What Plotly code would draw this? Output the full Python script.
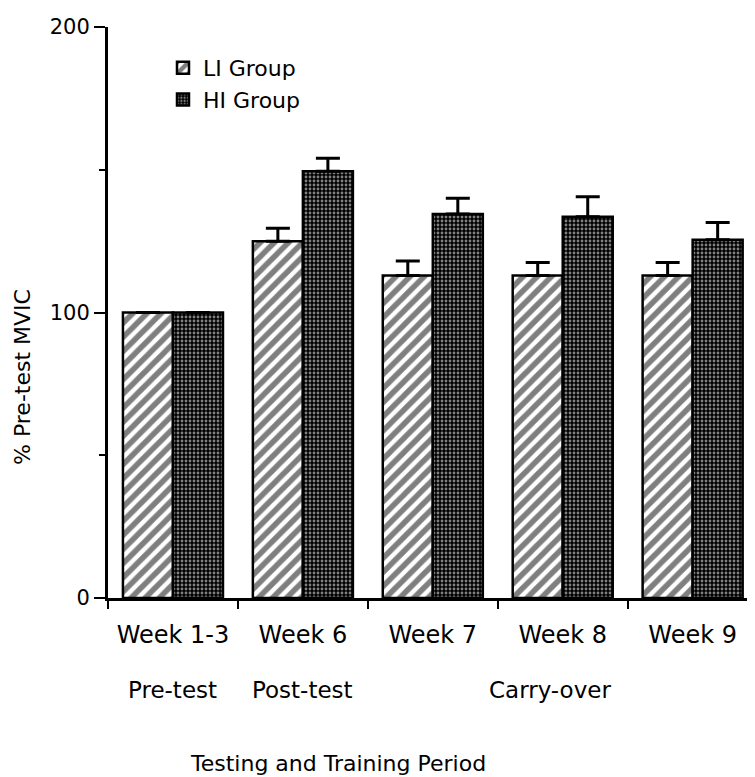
import plotly.graph_objects as go

categories = ["Week 1-3", "Week 6", "Week 7", "Week 8", "Week 9"]
li_values = [100, 125, 113, 113, 113]
li_errors = [0, 4.5, 5, 4.5, 4.5]
hi_values = [100, 149.5, 134.5, 133.5, 125.5]
hi_errors = [0, 4.5, 5.5, 7, 6]
period_labels = ["Pre-test", "Post-test", "Carry-over"]
period_positions = [0, 1, 2.9]
y_ticks = [0, 100, 200]
y_minor_ticks = [50, 150]

FONT = "DejaVu Sans"

fig = go.Figure()
fig.add_trace(go.Bar(
    x=categories, y=li_values, name="LI Group",
    marker=dict(color="white", line=dict(color="black", width=2.5),
                pattern=dict(shape="/", fgcolor="black", bgcolor="white", size=10, solidity=0.55)),
    error_y=dict(type="data", array=li_errors, arrayminus=[0]*len(li_errors), symmetric=False,
                 color="black", thickness=3, width=12),
))
fig.add_trace(go.Bar(
    x=categories, y=hi_values, name="HI Group",
    marker=dict(color="black", line=dict(color="black", width=2.5),
                pattern=dict(shape=".", fgcolor="white", bgcolor="black", size=4, solidity=0.4)),
    error_y=dict(type="data", array=hi_errors, arrayminus=[0]*len(hi_errors), symmetric=False,
                 color="black", thickness=3, width=12),
))

for lab, pos in zip(period_labels, period_positions):
    fig.add_annotation(x=pos, y=-0.161, xref="x", yref="paper", text=lab, showarrow=False,
                       xanchor="center", yanchor="middle", font=dict(family=FONT, size=23, color="black"))

fig.add_annotation(x=0.356, y=-0.289, xref="paper", yref="paper", text="Testing and Training Period",
                   showarrow=False, xanchor="center", yanchor="middle",
                   font=dict(family=FONT, size=22, color="black"))
fig.add_annotation(x=-0.133, y=0.387, xref="paper", yref="paper", text="% Pre-test MVIC",
                   showarrow=False, textangle=-90, xanchor="center", yanchor="middle",
                   font=dict(family=FONT, size=22, color="black"))

fig.update_layout(
    width=747, height=769,
    margin=dict(l=100, r=0, t=19, b=179),
    paper_bgcolor="white", plot_bgcolor="white",
    barmode="group", bargap=0.23, bargroupgap=0,
    font=dict(family=FONT, size=22, color="black"),
    showlegend=True,
    legend=dict(x=0.085, y=0.965, xanchor="left", yanchor="top", bgcolor="rgba(0,0,0,0)",
                font=dict(family=FONT, size=22, color="black"), tracegroupgap=0),
    xaxis=dict(type="category", categoryorder="array", categoryarray=categories,
               range=[-0.5, 4.48], tickson="boundaries", ticks="outside", ticklen=8, tickwidth=2,
               tickcolor="black", showline=True, linewidth=2.5, linecolor="black", showgrid=False,
               tickfont=dict(family=FONT, size=24, color="black"), ticklabelstandoff=13),
    yaxis=dict(range=[0, 200], tickvals=y_ticks, ticks="outside", ticklen=11, tickwidth=2,
               tickcolor="black", showline=True, linewidth=3, linecolor="black", showgrid=False,
               zeroline=False, tickfont=dict(family=FONT, size=21, color="black"),
               minor=dict(tickvals=y_minor_ticks, ticks="outside", ticklen=6, tickwidth=2,
                          tickcolor="black", showgrid=False)),
)

fig.write_html("out.html")
